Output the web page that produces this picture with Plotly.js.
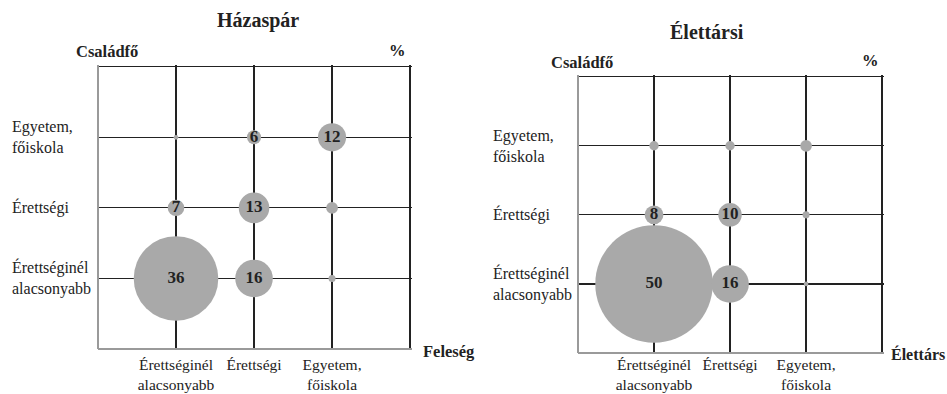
<!DOCTYPE html>
<html>
<head>
<meta charset="utf-8">
<script src="https://cdn.plot.ly/plotly-3.0.1.min.js"></script>
<style>
    html, body { margin: 0; padding: 0; background: #fff; }
    #chart { width: 947px; height: 394px; }
</style>
</head>
<body>
<div id="chart"></div>
<script>
// Categories (same for rows = Családfő and columns = Feleség / Élettárs)
const categories = ['Érettséginél<br>alacsonyabb', 'Érettségi', 'Egyetem,<br>főiskola'];
const categoryPos = [1, 2, 3];

// Values in %, rows from bottom (Érettséginél alacsonyabb) to top (Egyetem), columns left to right
const hazasparValues = [
    [36, 16, 3],
    [7, 13, 5],
    [2, 6, 12]
];
const elettarsiValues = [
    [50, 16, 2],
    [8, 10, 3],
    [4, 4, 5]
];

const panelTitles = ['Házaspár', 'Élettársi'];
const xTitles = ['Feleség', 'Élettárs'];
const yTitle = 'Családfő';
const unitLabel = '%';
const LABEL_MIN = 6;   // smaller bubbles carry no number

const FONT = 'Liberation Serif';
const BUBBLE = '#a9a9a9';
const GRID = '#222222';
const FRAME = '#9a9a9a';

function bubbleTrace(values, xa, ya) {
    const x = [], y = [], size = [], text = [];
    values.forEach((row, r) => {
        row.forEach((v, c) => {
            x.push(categoryPos[c]);
            y.push(categoryPos[r]);
            size.push(v);
            text.push(v >= LABEL_MIN ? '<b>' + v + '</b>' : '');
        });
    });
    return {
        type: 'scatter',
        mode: 'markers+text',
        x, y, text,
        xaxis: xa, yaxis: ya,
        textposition: 'middle center',
        textfont: { family: FONT, size: 17, color: '#222' },
        marker: {
            size,
            sizemode: 'diameter',
            sizeref: 1 / 2.35,
            color: BUBBLE,
            line: { width: 0 },
            opacity: 1
        },
        hoverinfo: 'skip',
        cliponaxis: false,
        showlegend: false
    };
}

function axisCfg(domain, isX, standoff) {
    return {
        domain,
        range: [0, 4.025],
        tickvals: [1, 2, 3, 4],
        ticktext: isX ? categories.concat(['']) : ['', '', '', ''],
        showgrid: true,
        gridcolor: GRID,
        gridwidth: isX ? 1.6 : 1.2,
        zeroline: true,
        zerolinecolor: FRAME,
        zerolinewidth: 2,
        showline: false,
        ticks: '',
        ticklabelstandoff: standoff || 0,
        tickfont: { family: FONT, size: 15.5, color: '#222' },
        fixedrange: true
    };
}

// Category labels on the left, left aligned
function rowLabels(xPx, yRef) {
    return categories.map((c, i) => ({
        text: c,
        xref: 'paper', x: xPx / 947, xanchor: 'left',
        yref: yRef, y: categoryPos[i], yanchor: 'middle',
        align: 'left',
        showarrow: false,
        font: { family: FONT, size: 16, color: '#222' }
    }));
}

function textNote(text, xPx, yPx, size, anchor) {
    return {
        text: '<b>' + text + '</b>',
        xref: 'paper', yref: 'paper',
        x: xPx / 947, y: 1 - yPx / 394,
        xanchor: anchor || 'center', yanchor: 'middle',
        showarrow: false,
        font: { family: FONT, size, color: '#222' }
    };
}

const data = [
    bubbleTrace(hazasparValues, 'x', 'y'),
    bubbleTrace(elettarsiValues, 'x2', 'y2')
];

const layout = {
    width: 947,
    height: 394,
    margin: { l: 0, r: 0, t: 0, b: 0 },
    paper_bgcolor: '#fff',
    plot_bgcolor: '#fff',
    font: { family: FONT },
    xaxis: axisCfg([98 / 947, 412 / 947], true, 4),
    yaxis: axisCfg([1 - 349 / 394, 1 - 65 / 394], false),
    xaxis2: Object.assign(axisCfg([578 / 947, 884 / 947], true, 0), { anchor: 'y2' }),
    yaxis2: Object.assign(axisCfg([1 - 353 / 394, 1 - 75 / 394], false), { anchor: 'x2' }),
    annotations: [
        ...rowLabels(10, 'y'),
        ...rowLabels(491, 'y2'),
        textNote(panelTitles[0], 258, 21, 20),
        textNote(panelTitles[1], 707, 32, 20),
        textNote(yTitle, 74, 52, 16.5, 'left'),
        textNote(yTitle, 549, 62, 16.5, 'left'),
        textNote(unitLabel, 397, 50, 16.5),
        textNote(unitLabel, 870, 61, 16.5),
        textNote(xTitles[0], 421, 351, 16.5, 'left'),
        textNote(xTitles[1], 889, 354, 16, 'left')
    ]
};

Plotly.newPlot('chart', data, layout, { staticPlot: true });
</script>
</body>
</html>
